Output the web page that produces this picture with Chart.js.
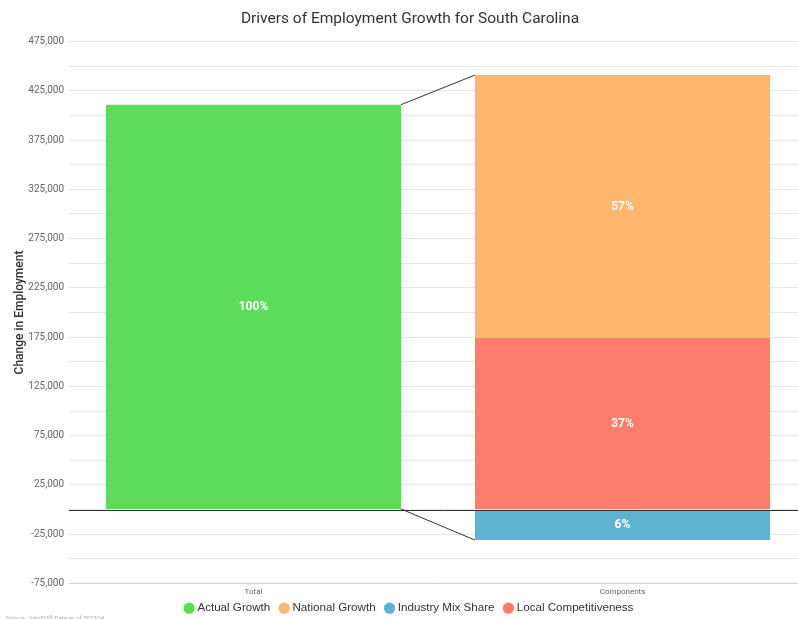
<!DOCTYPE html>
<html lang="en">

<head>
    <meta charset="UTF-8">
    <title>Drivers of Employment Growth for South Carolina</title>
    <style>
        html,
        body {
            margin: 0;
            padding: 0;
            background: #fff;
            overflow: hidden;
        }

        .chart-box {
            position: relative;
            width: 818px;
            height: 619px;
        }
    </style>
</head>

<body>
    <div class="chart-box">
        <canvas id="growthChart"></canvas>
    </div>

    <script src="https://cdn.jsdelivr.net/npm/chart.js"></script>
    <script>
        const categories = ['Total', 'Components'];

        // datasets listed bottom-to-top for stacking, legend shows them in legendOrder
        const seriesNames = ['Actual Growth', 'Local Competitiveness', 'National Growth', 'Industry Mix Share'];
        const actualGrowth = [411000, null];
        const localCompetitiveness = [null, 174000];
        const nationalGrowth = [null, 267000];
        const industryMixShare = [null, -31000];
        const shareLabels = [['100%', null], [null, '37%'], [null, '57%'], [null, '6%']];
        const seriesColors = ['#5CDC5A', '#FF7D6E', '#FFB76F', '#5EB3D0'];
        const legendOrder = ['Actual Growth', 'National Growth', 'Industry Mix Share', 'Local Competitiveness'];

        const yMin = -75000;
        const yMax = 475000;
        const yStep = 25000;

        const seriesValues = [actualGrowth, localCompetitiveness, nationalGrowth, industryMixShare];

        const legendRank = i => legendOrder.indexOf(seriesNames[i]);

        // white percentage labels in the middle of each bar segment, plus connectors and zero line
        const overlayPlugin = {
            id: 'overlay',
            afterDatasetsDraw(chart) {
                const ctx = chart.ctx;
                const area = chart.chartArea;
                const y = chart.scales.y;

                // zero line
                const zeroY = Math.round(y.getPixelForValue(0)) + 0.5;
                ctx.save();
                ctx.strokeStyle = '#333333';
                ctx.lineWidth = 1;
                ctx.beginPath();
                ctx.moveTo(area.left, zeroY);
                ctx.lineTo(chart.width, zeroY);
                ctx.stroke();

                // connectors from the total bar to the component stack
                const totalBar = chart.getDatasetMeta(0).data[0];
                let compTop = null, compBottom = null, compLeft = 0;
                chart.data.datasets.forEach((ds, i) => {
                    if (i === 0) return;
                    const el = chart.getDatasetMeta(i).data[1];
                    if (!el) return;
                    const hi = Math.min(el.y, el.base);
                    const lo = Math.max(el.y, el.base);
                    compTop = compTop === null ? hi : Math.min(compTop, hi);
                    compBottom = compBottom === null ? lo : Math.max(compBottom, lo);
                    compLeft = el.x - el.width / 2;
                });
                const totRight = totalBar.x + totalBar.width / 2;
                ctx.beginPath();
                ctx.moveTo(totRight, totalBar.y);
                ctx.lineTo(compLeft, compTop);
                ctx.moveTo(totRight, totalBar.base);
                ctx.lineTo(compLeft, compBottom);
                ctx.stroke();

                // percentage labels
                ctx.fillStyle = '#ffffff';
                ctx.font = 'bold 12px Roboto';
                ctx.textAlign = 'center';
                ctx.textBaseline = 'middle';
                chart.data.datasets.forEach((ds, i) => {
                    chart.getDatasetMeta(i).data.forEach((el, j) => {
                        const txt = shareLabels[i][j];
                        if (!txt) return;
                        ctx.fillText(txt, el.x, (el.y + el.base) / 2);
                    });
                });
                ctx.restore();
            },
            afterDraw(chart) {
                const ctx = chart.ctx;
                ctx.save();
                ctx.fillStyle = '#aaaaaa';
                ctx.font = '6px Roboto';
                ctx.textAlign = 'left';
                ctx.textBaseline = 'bottom';
                ctx.fillText('Source: JobsEQ® Data as of 2023Q4', 6, chart.height + 2);
                ctx.restore();
            }
        };

        const chart = new Chart(document.getElementById('growthChart'), {
            type: 'bar',
            data: {
                labels: categories,
                datasets: seriesNames.map((name, i) => ({
                    label: name,
                    data: seriesValues[i],
                    backgroundColor: seriesColors[i],
                    borderWidth: 0,
                    barPercentage: 1,
                    categoryPercentage: 0.8
                }))
            },
            options: {
                responsive: true,
                maintainAspectRatio: false,
                animation: false,
                layout: {
                    padding: { top: 10, right: 11, left: 13, bottom: -5 }
                },
                plugins: {
                    title: {
                        display: true,
                        text: 'Drivers of Employment Growth for South Carolina',
                        color: '#333333',
                        font: { family: 'Roboto', size: 15.5, weight: 'normal' },
                        padding: { top: 0, bottom: 13 }
                    },
                    legend: {
                        position: 'bottom',
                        labels: {
                            usePointStyle: true,
                            pointStyle: 'circle',
                            boxWidth: 5,
                            boxHeight: 8,
                            padding: 5,
                            color: '#333333',
                            font: { family: 'Liberation Sans', size: 11.6 },
                            // a little extra room after every item but the last
                            generateLabels: chart => Chart.defaults.plugins.legend.labels.generateLabels(chart)
                                .map(item => {
                                    if (legendRank(item.datasetIndex) < legendOrder.length - 1) item.text += '  ';
                                    return item;
                                }),
                            sort: (a, b) => legendRank(a.datasetIndex) - legendRank(b.datasetIndex)
                        }
                    },
                    tooltip: { enabled: false }
                },
                scales: {
                    x: {
                        stacked: true,
                        afterFit: scale => { scale.height = 14; },
                        grid: { display: false, drawTicks: false },
                        border: { color: '#ccd6eb' },
                        ticks: {
                            color: '#666666',
                            font: { family: 'Roboto', size: 8 },
                            padding: 4
                        }
                    },
                    y: {
                        stacked: true,
                        min: yMin,
                        max: yMax,
                        afterFit: scale => { scale.width = 56; },
                        grid: {
                            color: '#e6e6e6',
                            drawTicks: false
                        },
                        border: { display: false },
                        ticks: {
                            stepSize: yStep,
                            autoSkip: false,
                            padding: 5,
                            color: '#666666',
                            font: { family: 'Roboto', size: 10 },
                            callback: v => ((v - yStep) % (2 * yStep) === 0) ? v.toLocaleString('en-US') : ''
                        },
                        title: {
                            display: true,
                            text: 'Change in Employment',
                            color: '#333333',
                            font: { family: 'Roboto', size: 12, weight: '500' },
                            padding: { top: 0, bottom: 2 }
                        }
                    }
                }
            },
            plugins: [overlayPlugin]
        });
    </script>
</body>

</html>
